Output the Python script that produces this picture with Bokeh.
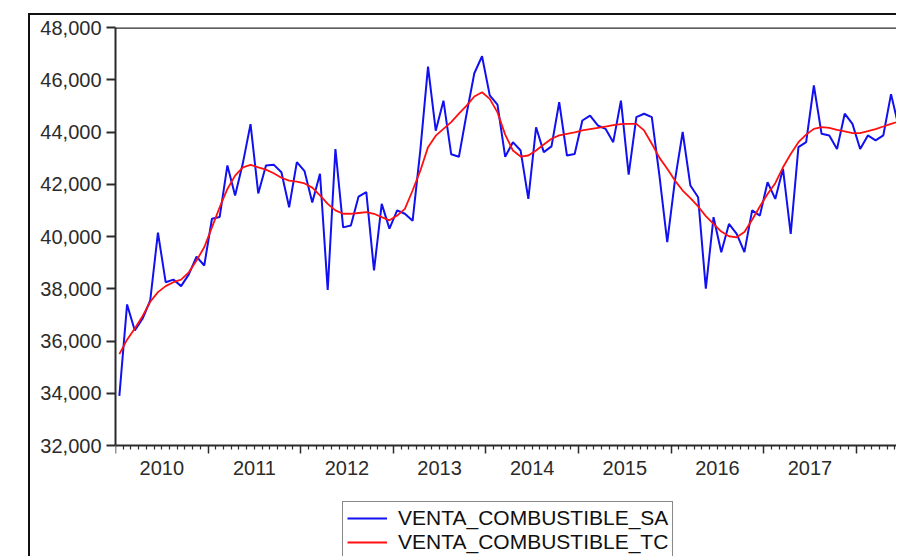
from bokeh.plotting import figure
from bokeh.models import (LinearAxis, FixedTicker, NumeralTickFormatter, Range1d,
                          Legend, LegendItem, Span, ColumnDataSource)
from bokeh.embed import file_html
from bokeh.resources import INLINE

# ---------------- data (monthly, starting January 2010) ----------------
start_year = 2010
years = [2010, 2011, 2012, 2013, 2014, 2015, 2016, 2017, 2018]
year_labels = ["2010", "2011", "2012", "2013", "2014", "2015", "2016", "2017", "2018"]
y_ticks = [32000, 34000, 36000, 38000, 40000, 42000, 44000, 46000, 48000]

venta_sa = [
    33900, 37400, 36400, 36850, 37550, 40150, 38250, 38350, 38100, 38550, 39230, 38890,
    40680, 40750, 42720, 41570, 42800, 44300, 41650, 42720, 42750, 42460, 41120, 42850,
    42500, 41300, 42400, 37950, 43350, 40350, 40420, 41530, 41700, 38700, 41250, 40300,
    41000, 40870, 40600, 43300, 46500, 44050, 45200, 43150, 43050, 44700, 46250, 46900,
    45400, 45050, 43050, 43610, 43290, 41440, 44180, 43230, 43450, 45140, 43100, 43160,
    44440, 44630, 44250, 44120, 43610, 45200, 42370, 44570, 44700, 44570, 42300, 39780,
    42150, 44000, 41950, 41500, 38000, 40740, 39400, 40480, 40100, 39400, 41000, 40800,
    42080, 41440, 42590, 40100, 43420, 43610, 45780, 43930, 43870, 43350, 44700, 44310,
    43350, 43870, 43680, 43870, 45450, 44190,
]

venta_tc = [
    35500, 36050, 36480, 36950, 37500, 37870, 38100, 38250, 38350, 38630, 39080, 39590,
    40350, 41120, 41820, 42330, 42650, 42740, 42650, 42560, 42420, 42250, 42140, 42100,
    42030, 41870, 41570, 41250, 41000, 40870, 40870, 40900, 40930, 40870, 40740, 40620,
    40800, 41060, 41760, 42520, 43420, 43860, 44120, 44380, 44700, 45010, 45360, 45520,
    45270, 44750, 43900, 43290, 43060, 43100, 43290, 43520, 43740, 43870, 43930, 43990,
    44060, 44110, 44160, 44210, 44260, 44300, 44310, 44310, 44060, 43550, 43010, 42590,
    42140, 41760, 41470, 41150, 40780, 40480, 40190, 40010, 39970, 40170, 40640, 41150,
    41630, 42040, 42650, 43160, 43610, 43900, 44120, 44190, 44160, 44080, 44020, 43960,
    43960, 44030, 44110, 44210, 44310, 44400,
]

# month midpoints in decimal years
t = [start_year + (i + 0.5) / 12.0 for i in range(len(venta_sa))]
src = ColumnDataSource(dict(t=t, sa=venta_sa, tc=venta_tc))

FONT = "Liberation Sans"
INK = "#2b2b2b"

Y_MIN, Y_MAX = 32000, 48000
PLOT_H = 418                      # px between Y_MIN and Y_MAX
EXTRA_H = 120                     # frame continues below Y_MIN to hold the legend
per_px = (Y_MAX - Y_MIN) / PLOT_H

p = figure(
    frame_width=781, frame_height=PLOT_H + EXTRA_H,
    x_range=Range1d(2010.0, 2010.0 + 781 / 92.6),
    y_range=Range1d(Y_MIN - EXTRA_H * per_px, Y_MAX),
    x_axis_location=None,
    output_backend="svg", toolbar_location=None,
    min_border_left=85, min_border_right=0, min_border_top=12, min_border_bottom=0,
    margin=(13, 0, 0, 28),
    styles={"border-top": "2px solid #111", "border-left": "2px solid #111"},
)
p.outline_line_color = None
p.xgrid.visible = False
p.ygrid.visible = False
p.background_fill_color = "white"
p.border_fill_color = "white"

# y axis (drawn only between 32,000 and 48,000)
ya = p.yaxis[0]
ya.bounds = (Y_MIN, Y_MAX)
ya.ticker = FixedTicker(ticks=y_ticks)
ya.formatter = NumeralTickFormatter(format="0,0")
ya.axis_line_color = INK
ya.axis_line_width = 2
ya.major_tick_line_color = INK
ya.major_tick_line_width = 2
ya.major_tick_out = 9
ya.major_tick_in = 0
ya.minor_tick_line_color = None
ya.major_label_standoff = 5
ya.major_label_text_font = FONT
ya.major_label_text_font_size = "20px"
ya.major_label_text_color = INK

# x axis at 32,000: year boundary ticks + month minor ticks (no labels drawn)
year_bounds = [float(y) for y in years]
month_bounds = [y + m / 12.0 for y in years for m in range(1, 12)]
xa = LinearAxis(ticker=FixedTicker(ticks=year_bounds, minor_ticks=month_bounds),
                fixed_location=Y_MIN)
xa.axis_line_color = INK
xa.axis_line_width = 2
xa.major_tick_line_color = INK
xa.major_tick_line_width = 1.5
xa.major_tick_out = 8
xa.major_tick_in = 0
xa.minor_tick_line_color = INK
xa.minor_tick_line_width = 1.2
xa.minor_tick_out = 4
xa.minor_tick_in = 0
xa.major_label_text_color = None
xa.major_label_text_font_size = "2px"
xa.major_label_standoff = 0
p.add_layout(xa, "below")

# year labels at mid-year
mid_years = [y + 0.5 for y in years]
xl = LinearAxis(ticker=FixedTicker(ticks=mid_years, minor_ticks=[]), fixed_location=Y_MIN)
xl.major_label_overrides = {m: lab for m, lab in zip(mid_years, year_labels)}
xl.axis_line_color = None
xl.major_tick_line_color = None
xl.minor_tick_line_color = None
xl.major_tick_out = 0
xl.major_tick_in = 0
xl.major_label_standoff = 15
xl.major_label_text_font = FONT
xl.major_label_text_font_size = "20px"
xl.major_label_text_color = INK
p.add_layout(xl, "below")

# top frame line
p.add_layout(Span(location=Y_MAX, dimension="width", line_color=INK, line_width=2.5))

r_sa = p.line("t", "sa", source=src, line_color="#1010f0", line_width=2.0)
r_tc = p.line("t", "tc", source=src, line_color="#ff1010", line_width=1.8)

legend = Legend(
    items=[LegendItem(label="VENTA_COMBUSTIBLE_SA", renderers=[r_sa]),
           LegendItem(label="VENTA_COMBUSTIBLE_TC", renderers=[r_tc])],
    location=(227, 6),
    orientation="vertical",
    border_line_color="#111", border_line_width=1.2,
    background_fill_color="white", background_fill_alpha=1.0,
    label_text_font=FONT, label_text_font_size="21px", label_text_color="#111",
    glyph_width=40, glyph_height=20, label_height=20, label_standoff=11,
    spacing=0, padding=4, margin=0,
)
p.add_layout(legend)

open("out.html", "w").write(file_html(p, INLINE))
